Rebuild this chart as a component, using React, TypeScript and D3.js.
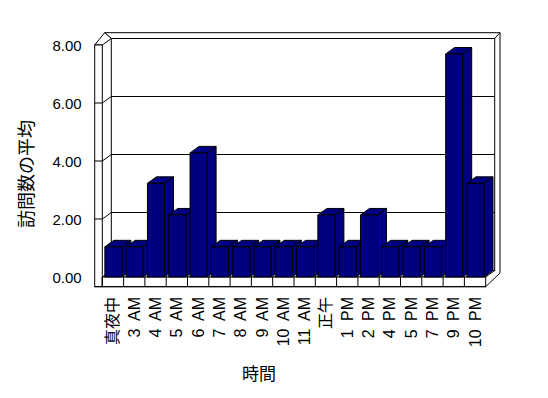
import React from 'react';
import * as d3 from 'd3';

const categories = ['真夜中', '3 AM', '4 AM', '5 AM', '6 AM', '7 AM', '8 AM', '9 AM', '10 AM', '11 AM', '正午', '1 PM', '2 PM', '4 PM', '5 PM', '7 PM', '9 PM', '10 PM'];
const values = [1.04, 1.04, 3.23, 2.14, 4.28, 1.04, 1.04, 1.04, 1.04, 1.04, 2.14, 1.04, 2.14, 1.04, 1.04, 1.04, 7.69, 3.23];
const yTicks = [0, 2, 4, 6, 8];
const yTitle = '訪問数の平均';
const xTitle = '時間';

const W = 548;
const H = 398;
const X0 = 102.3;
const X1 = 485.7;
const DX = 9;
const DY = -6.5;
const WALL_L = 94.7;
const OUT_R = 500;
const OUT_T = 32.7;
const FLOOR_B = 286.7;
const NAVY = '#000080';
const FONT = '"Liberation Sans", "Noto Sans CJK JP", sans-serif';

export default function App() {
  const x = d3.scaleBand<string>().domain(categories).range([X0, X1]);
  const y = d3.scaleLinear().domain([0, 8]).range([277, 45]);
  const bw = x.bandwidth() * 0.8;
  const boff = x.bandwidth() * 0.12;
  const pts = (a: number[][]) => a.map(p => p.join(',')).join(' ');
  const y0 = y(0);
  const yTop = y(8);
  const bx0 = X0 + DX, bx1 = X1 + DX;

  return (
    <svg width={W} height={H} style={{ position: 'absolute', left: 0, top: 0, background: '#fff' }}>
      <g fill="none" stroke="#000" strokeWidth={1}>
        {/* back wall face */}
        <rect x={bx0} y={yTop + DY} width={bx1 - bx0} height={y0 - yTop} fill="#fff" />
        {/* back wall top strip */}
        <polygon points={pts([[104.7, OUT_T], [OUT_R, OUT_T], [bx1, yTop + DY], [bx0, yTop + DY]])} fill="#fff" />
        <line x1={OUT_R} y1={OUT_T} x2={OUT_R} y2={273} />
        {/* left wall */}
        <polygon points={pts([[WALL_L, yTop], [X0, yTop], [bx0, yTop + DY], [104.7, OUT_T]])} fill="#fff" />
        <rect x={WALL_L} y={yTop} width={X0 - WALL_L} height={FLOOR_B - yTop} fill="#fff" />
        {yTicks.filter(v => v > 0 && v < 8).map(v => (
          <g key={v}>
            <line x1={WALL_L} y1={y(v)} x2={X0} y2={y(v)} />
            <line x1={X0} y1={y(v)} x2={bx0} y2={y(v) + DY} />
            <line x1={bx0} y1={y(v) + DY} x2={bx1} y2={y(v) + DY} />
          </g>
        ))}
        {/* floor */}
        <polygon points={pts([[X0, y0], [X1, y0], [bx1, y0 + DY], [bx0, y0 + DY]])} fill="#fff" />
        <rect x={X0} y={y0} width={X1 - X0} height={FLOOR_B - y0} fill="#fff" />
        <line x1={WALL_L} y1={FLOOR_B} x2={X1} y2={FLOOR_B} />
        <line x1={X1} y1={FLOOR_B} x2={OUT_R} y2={273} />
        {categories.map(c => (
          <line key={c} x1={x(c)!} y1={y0} x2={x(c)!} y2={FLOOR_B} />
        ))}
      </g>
      {/* bars */}
      <g stroke="#000" strokeWidth={1} strokeLinejoin="round">
        {categories.map((c, i) => {
          const l = x(c)! + boff;
          const r = l + bw;
          const t = y(values[i]);
          return (
            <g key={c}>
              <polygon points={pts([[r, t], [r + DX, t + DY], [r + DX, y0 + DY], [r, y0]])} fill={NAVY} />
              <polygon points={pts([[l, t], [r, t], [r + DX, t + DY], [l + DX, t + DY]])} fill={NAVY} />
              <rect x={l} y={t} width={bw} height={y0 - t} fill={NAVY} />
            </g>
          );
        })}
      </g>
      {/* y tick labels */}
      <g fontFamily={FONT} fontSize={15} fill="#000" textAnchor="end">
        {yTicks.map(v => (
          <text key={v} x={81.7} y={y(v)} dominantBaseline="central">{d3.format('.2f')(v)}</text>
        ))}
      </g>
      {/* x tick labels */}
      <g fontFamily={FONT} fontSize={16} fill="#000" textAnchor="end" style={{ wordSpacing: '4px' }}>
        {categories.map(c => {
          const cx = x(c)! + x.bandwidth() / 2;
          return (
            <text key={c} transform={`translate(${cx},297) rotate(-90)`} dominantBaseline="central">{c}</text>
          );
        })}
      </g>
      <text transform="translate(27,174) rotate(-90)" textAnchor="middle" dominantBaseline="central" fontFamily={FONT} fontSize={18}>{yTitle}</text>
      <text x={259} y={374} textAnchor="middle" dominantBaseline="central" fontFamily={FONT} fontSize={17}>{xTitle}</text>
    </svg>
  );
}
